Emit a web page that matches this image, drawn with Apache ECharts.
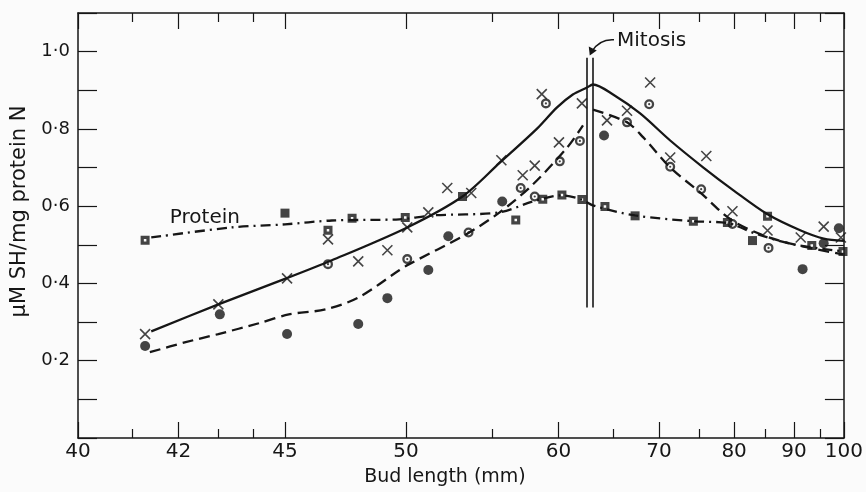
<!DOCTYPE html>
<html>
<head>
<meta charset="utf-8">
<script src="https://cdn.jsdelivr.net/npm/echarts@6/dist/echarts.min.js"></script>
<style>
html, body { margin: 0; padding: 0; background: #fbfbfb; }
#chart { width: 866px; height: 492px; }
</style>
</head>
<body>
<div id="chart"></div>
<script>
// bud length axis is spaced as log10(length - 35)
const xLabels = [40, 42, 45, 50, 60, 70, 80, 90, 100]
const xMinorTicks = [41, 43, 44, 55, 65, 75, 85, 95]

// [bud length mm, µM SH/mg protein N]
const crossPts = [
	[41.26, 0.269], [43.0, 0.346], [45.07, 0.413], [46.55, 0.514], [47.78, 0.457],
	[49.09, 0.486], [50.06, 0.545], [51.16, 0.584], [52.22, 0.647], [53.66, 0.634],
	[55.64, 0.719], [57.17, 0.68], [58.08, 0.705], [58.63, 0.89], [60.03, 0.765],
	[62.03, 0.866], [64.4, 0.822], [66.44, 0.847], [68.97, 0.92], [71.33, 0.726],
	[76.0, 0.73], [79.75, 0.587], [85.33, 0.537], [91.25, 0.519], [95.74, 0.547],
	[99.35, 0.519],
]
const dotPts = [
	[41.26, 0.238], [43.04, 0.32], [45.07, 0.269], [47.78, 0.295], [49.09, 0.362],
	[51.16, 0.435], [52.28, 0.522], [55.7, 0.612], [64.11, 0.783], [91.6, 0.437],
	[95.74, 0.504], [98.9, 0.543],
]
const ringPts = [
	[46.55, 0.45], [50.06, 0.463], [53.49, 0.532], [57.02, 0.647], [58.08, 0.625],
	[58.96, 0.866], [60.1, 0.716], [61.85, 0.769], [66.44, 0.817], [68.86, 0.864],
	[71.33, 0.702], [75.3, 0.644], [79.75, 0.554], [85.5, 0.492],
]
const squareDotPts = [
	[41.26, 0.512], [46.55, 0.538], [47.52, 0.569], [49.96, 0.571], [56.66, 0.564],
	[58.71, 0.618], [60.28, 0.629], [62.03, 0.617], [64.2, 0.599], [74.26, 0.561],
	[79.0, 0.558], [85.33, 0.574], [93.37, 0.498], [99.8, 0.483],
]
const squareFullPts = [[45.0, 0.582], [53.12, 0.625], [67.3, 0.575], [82.86, 0.511]]

const solidCurve = [
	[41.39, 0.276], [43.0, 0.346], [45.04, 0.413], [46.7, 0.46], [50.06, 0.545],
	[53.12, 0.625], [55.52, 0.712], [58.24, 0.8], [59.85, 0.855], [61.22, 0.889],
	[62.49, 0.907], [63.05, 0.915], [65.0, 0.889], [67.85, 0.84], [71.33, 0.77],
	[75.6, 0.70], [79.9, 0.641], [85.33, 0.579], [91.25, 0.537], [95.74, 0.516],
	[100, 0.51],
]
const dashedCurve = [
	[41.36, 0.222], [42.17, 0.248], [43.0, 0.269], [44.16, 0.297], [45.13, 0.32],
	[46.47, 0.333], [47.8, 0.364], [49.66, 0.434], [50.16, 0.45], [53.34, 0.527],
	[55.52, 0.584], [57.93, 0.656], [60.73, 0.752], [62.13, 0.809],
	null,
	[63.05, 0.85], [66.44, 0.817], [68.2, 0.778], [71.33, 0.70], [75.19, 0.635],
	[79.45, 0.566], [84.2, 0.527], [89.97, 0.501], [99.8, 0.475],
]
const proteinCurve = [
	[41.39, 0.519], [43.36, 0.545], [45.0, 0.553], [46.7, 0.563], [49.66, 0.566],
	[51.37, 0.576], [55.52, 0.584], [57.93, 0.612], [60.28, 0.628], [62.03, 0.617],
	[63.05, 0.602], [67.3, 0.576], [74.26, 0.561], [79.0, 0.556], [83.7, 0.527],
	[89.97, 0.501], [99.8, 0.483],
]

const mitosisLines = [62.49, 63.05]
const mitosisSpan = [0.338, 0.984]
const mitosisLabel = [65.4, 1.028]
const mitosisTip = [62.75, 0.99]
const proteinLabel = [41.8, 0.571]

const ink = "#161616"
const font = "DejaVu Sans"
const tf = L => Math.log10(L - 35)
const toXY = p => (p ? [tf(p[0]), p[1]] : [null, null])

const crossSym = "path://M0,0L10,10M10,0L0,10"
const ringSym =
	"path://M0,5A5,5,0,1,0,10,5A5,5,0,1,0,0,5ZM2.3,5A2.7,2.7,0,1,1,7.7,5A2.7,2.7,0,1,1,2.3,5ZM3.9,5A1.1,1.1,0,1,0,6.1,5A1.1,1.1,0,1,0,3.9,5Z"
const squareDotSym = "path://M0,0L10,0L10,10L0,10ZM3.6,3.6L3.6,6.4L6.4,6.4L6.4,3.6Z"

const xBase = (position, ticks, len, labels) => ({
	type: "value",
	position,
	min: tf(40),
	max: tf(100),
	axisLine: { show: !!labels, onZero: false, lineStyle: { color: ink, width: 1.5 } },
	axisTick: { inside: true, length: len, customValues: ticks.map(tf), lineStyle: { color: ink, width: 1.2 } },
	axisLabel: labels
		? {
				customValues: xLabels.map(tf),
				formatter: v => String(Math.round(35 + Math.pow(10, v))),
				color: ink,
				fontFamily: font,
				fontSize: 20,
				margin: 4,
			}
		: { show: false },
	splitLine: { show: false },
})

const yBase = (position, showLabel) => ({
	type: "value",
	position,
	min: 0,
	max: 1.1,
	interval: 0.1,
	axisLine: { show: true, onZero: false, lineStyle: { color: ink, width: 1.5 } },
	axisTick: { inside: true, length: 19, lineStyle: { color: ink, width: 1.2 } },
	axisLabel: showLabel
		? {
				color: ink,
				fontFamily: font,
				fontSize: 18,
				margin: 8,
				formatter: v => {
					const n = Math.round(v * 10)
					if (n === 10) return "1·0"
					return n > 0 && n < 10 && n % 2 === 0 ? "0·" + n : ""
				},
			}
		: { show: false },
	splitLine: { show: false },
})

const chart = echarts.init(document.getElementById("chart"))

const lineSeries = (data, type) => ({
	type: "line",
	data: data.map(toXY),
	smooth: 0.3,
	symbol: "none",
	connectNulls: false,
	lineStyle: { color: ink, width: 2.3, type },
	z: 2,
})
const scatterSeries = (data, symbol, size, style) => ({
	type: "scatter",
	data: data.map(toXY),
	symbol,
	symbolSize: size,
	itemStyle: style,
	z: 3,
})

const xMain = xBase("bottom", xLabels, 16, true)
xMain.name = "Bud length (mm)"
xMain.nameLocation = "middle"
xMain.nameGap = 30
xMain.nameTextStyle = { color: ink, fontFamily: font, fontSize: 19, padding: [0, 32, 0, 0] }

const yMain = yBase("left", true)
yMain.name = "μM SH/mg protein N"
yMain.nameLocation = "middle"
yMain.nameGap = 37
yMain.nameTextStyle = { color: ink, fontFamily: font, fontSize: 21, padding: [0, 0, 0, 28] }

chart.setOption({
	backgroundColor: "#fbfbfb",
	animation: false,
	grid: { left: 78, right: 22, top: 13, bottom: 51 },
	xAxis: [
		xMain,
		xBase("bottom", xMinorTicks, 9, false),
		Object.assign(xBase("top", xLabels, 16, false), { axisLine: { show: true, onZero: false, lineStyle: { color: ink, width: 1.5 } } }),
		xBase("top", xMinorTicks, 9, false),
	],
	yAxis: [yMain, yBase("right", false)],
	series: [
		Object.assign(lineSeries(solidCurve, "solid"), {
			markLine: {
				silent: true,
				symbol: "none",
				label: { show: false },
				lineStyle: { color: ink, width: 1.6, type: "solid" },
				data: mitosisLines.map(L => [{ coord: [tf(L), mitosisSpan[1]] }, { coord: [tf(L), mitosisSpan[0]] }]),
			},
		}),
		lineSeries(dashedCurve, [11, 6]),
		lineSeries(proteinCurve, [10, 5, 2, 5]),
		scatterSeries(crossPts, crossSym, 10, { color: "none", borderColor: ink, borderWidth: 1.6 }),
		scatterSeries(dotPts, "circle", 10, { color: ink }),
		scatterSeries(ringPts, ringSym, 10, { color: ink }),
		scatterSeries(squareDotPts, squareDotSym, 9, { color: ink }),
		scatterSeries(squareFullPts, "rect", 9, { color: ink }),
	],
})

const px = p => chart.convertToPixel({ xAxisIndex: 0, yAxisIndex: 0 }, [tf(p[0]), p[1]])
const mText = px(mitosisLabel)
const mTip = px(mitosisTip)
const pText = px(proteinLabel)

chart.setOption({
	graphic: [
		{
			type: "text",
			x: mText[0],
			y: mText[1],
			style: { text: "Mitosis", fill: ink, font: `20px "${font}"`, textAlign: "left", textVerticalAlign: "middle" },
		},
		{
			type: "bezierCurve",
			shape: {
				x1: mText[0] - 3,
				y1: mText[1] - 1,
				cpx1: mTip[0] + 10,
				cpy1: mText[1] - 2,
				x2: mTip[0] + 2,
				y2: mTip[1] - 4,
			},
			style: { stroke: ink, lineWidth: 1.4, fill: null },
		},
		{
			type: "polygon",
			shape: {
				points: [
					[mTip[0], mTip[1]],
					[mTip[0] - 1, mTip[1] - 9],
					[mTip[0] + 7, mTip[1] - 5],
				],
			},
			style: { fill: ink },
		},
		{
			type: "text",
			x: pText[0],
			y: pText[1],
			style: { text: "Protein", fill: ink, font: `20px "${font}"`, textAlign: "left", textVerticalAlign: "middle" },
		},
	],
})
</script>
</body>
</html>
